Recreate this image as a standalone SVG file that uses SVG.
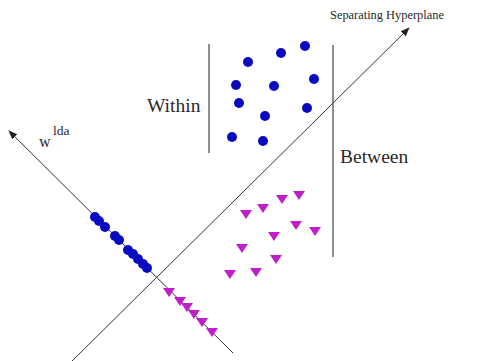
<svg xmlns="http://www.w3.org/2000/svg" width="477" height="361" viewBox="0 0 477 361">
<style>
.ln{stroke:#333;stroke-width:1;fill:none}
.vl{stroke:#444;stroke-width:1.2}
.dot{fill:#0a0ac0}
.tri{fill:#c01ec8}
text{font-family:"Liberation Serif","Times New Roman",serif;fill:#2a2a2a}
</style>
<defs>
<marker id="ah" viewBox="0 0 10 10" refX="9" refY="5" markerWidth="9" markerHeight="9" markerUnits="userSpaceOnUse" orient="auto">
<path d="M0,1 L10,5 L0,9 Z" fill="#222"/>
</marker>
<symbol id="t" overflow="visible"><path d="M-6,-4 L6,-4 L0,5 Z"/></symbol>
</defs>
<rect width="477" height="361" fill="#fff"/>
<g id="connectors">
<line class="ln" x1="72" y1="361" x2="409" y2="28" marker-end="url(#ah)"/>
<line class="ln" x1="233" y1="353" x2="9" y2="131" marker-end="url(#ah)"/>
<line class="vl" x1="209" y1="44" x2="209" y2="153"/>
<line class="vl" x1="333" y1="45" x2="333" y2="257"/>
</g>
<g id="labels">
<text x="330" y="19" font-size="12.4">Separating Hyperplane</text>
<text x="147" y="112" font-size="19.5">Within</text>
<text x="340" y="163" font-size="19.5">Between</text>
<text x="39" y="147" font-size="16">w</text>
<text x="53" y="135" font-size="13.5">lda</text>
</g>
<g id="class1-cluster" class="dot">
<circle cx="248" cy="62" r="5"/><circle cx="281" cy="53" r="5"/><circle cx="305" cy="46" r="5"/>
<circle cx="236" cy="85" r="5"/><circle cx="274" cy="86" r="5"/><circle cx="314" cy="79" r="5"/>
<circle cx="239" cy="103" r="5"/><circle cx="265" cy="116" r="5"/><circle cx="307" cy="108" r="5"/>
<circle cx="232" cy="137" r="5"/><circle cx="263" cy="141" r="5"/>
</g>
<g id="class1-projection" class="dot">
<circle cx="95" cy="217" r="5"/><circle cx="99" cy="221" r="5"/><circle cx="105" cy="227" r="5"/>
<circle cx="115" cy="236" r="5"/><circle cx="119" cy="240" r="5"/><circle cx="128" cy="250" r="5"/>
<circle cx="133" cy="254" r="5"/><circle cx="138" cy="259" r="5"/><circle cx="143" cy="264" r="5"/><circle cx="147" cy="268" r="5"/>
</g>
<g id="class2-cluster" class="tri">
<use href="#t" x="299" y="195"/><use href="#t" x="282" y="199"/><use href="#t" x="263" y="208"/>
<use href="#t" x="246" y="214"/><use href="#t" x="296" y="225"/><use href="#t" x="315" y="231"/>
<use href="#t" x="274" y="236"/><use href="#t" x="242" y="248"/><use href="#t" x="276" y="259"/>
<use href="#t" x="230" y="274"/><use href="#t" x="256" y="272"/>
</g>
<g id="class2-projection" class="tri">
<use href="#t" x="169" y="292"/><use href="#t" x="180" y="301"/><use href="#t" x="187" y="307"/>
<use href="#t" x="194" y="314"/><use href="#t" x="202" y="322"/><use href="#t" x="212" y="332"/>
</g>
</svg>
